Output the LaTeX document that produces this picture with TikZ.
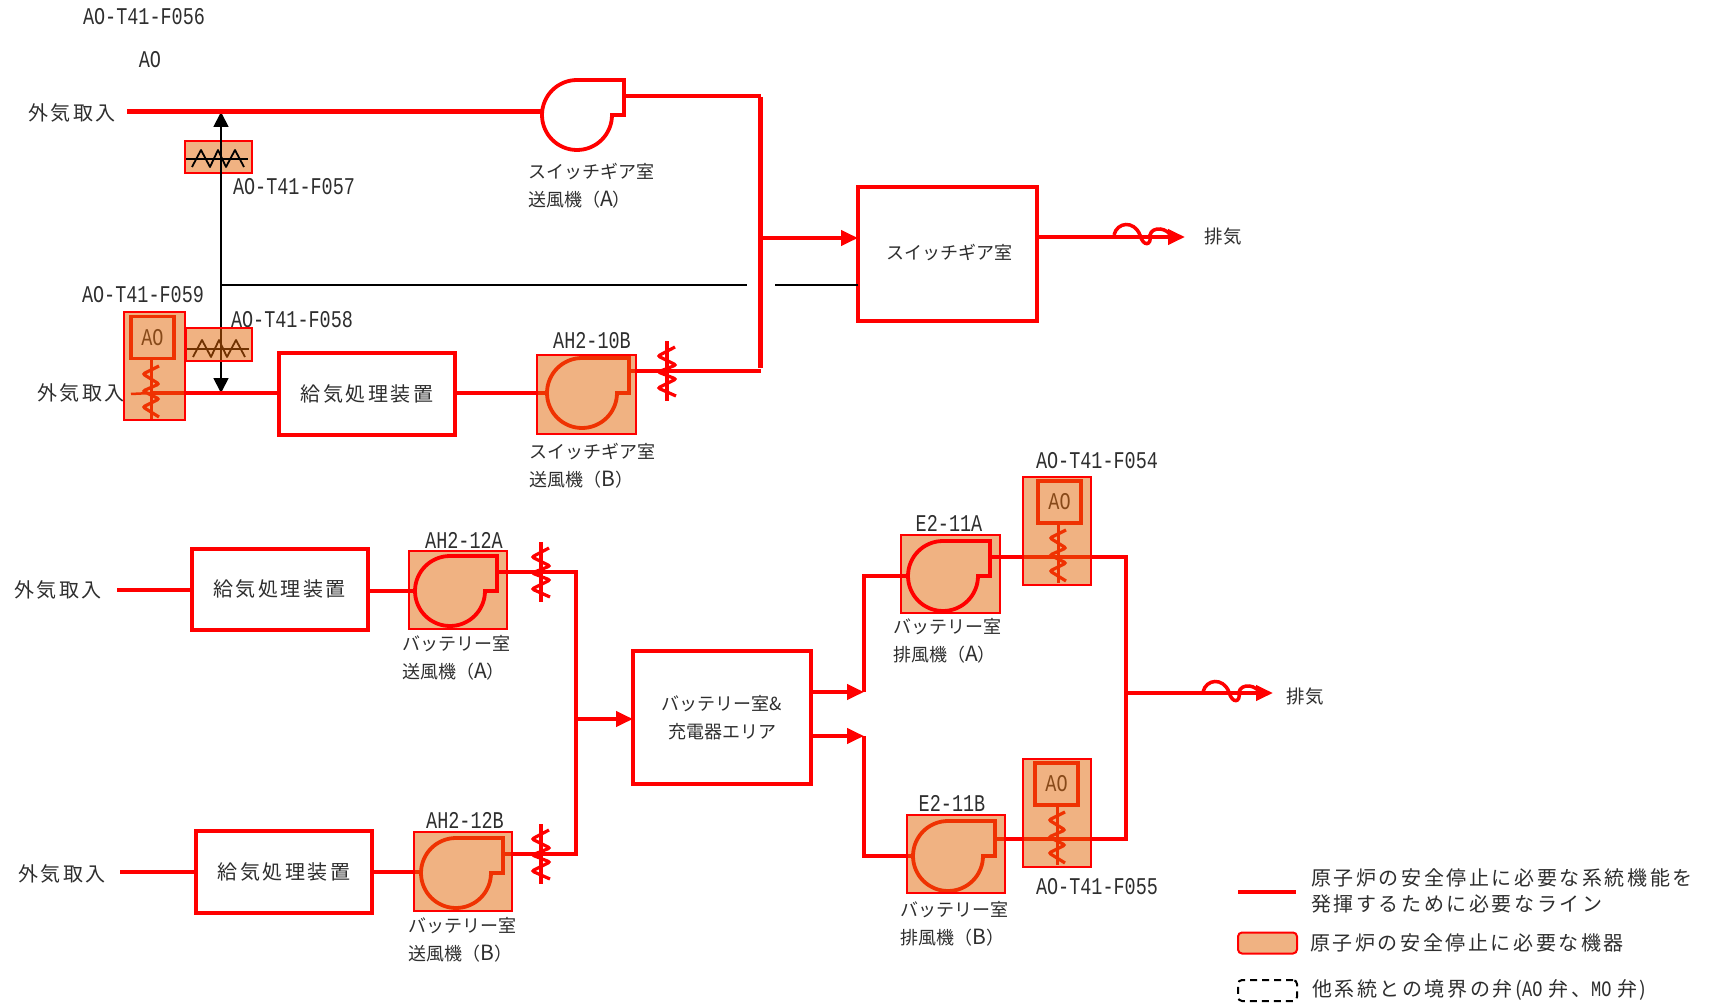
\documentclass[tikz,border=0pt]{standalone}
\usepackage{fontspec}
\usepackage{tikz}
\usetikzlibrary{arrows.meta}
\setmainfont{Liberation Serif}
\newfontfamily\jpfont{Noto Sans CJK JP}
\newfontfamily\jpwide[LetterSpace=13]{Noto Sans CJK JP}
\newfontfamily\tagfont[FakeStretch=0.77]{Liberation Mono}
\definecolor{kikiFill}{HTML}{E16505}
\definecolor{kikiLegend}{HTML}{F0B282}
\definecolor{txtGrey}{HTML}{2E2E2E}
\newcommand{\fanA}{{\jpfont（}{\fontsize{21}{21}\selectfont A}{\jpfont）}}
\newcommand{\fanB}{{\jpfont（}{\fontsize{21}{21}\selectfont B}{\jpfont）}}
\tikzset{
  fan/.pic={
    \draw[fanline] (35,0) arc[start angle=0,end angle=270,radius=35] -- (47,-35) -- (47,0) -- cycle;
    \coordinate (-in) at (-35,0);
    \coordinate (-out) at (47,-19);
  },
  spring/.pic={
    \draw[redline, line width=4pt] (0,-30) -- (0,30);
    \draw[redline, line width=3.2pt, rounded corners=2pt] (8,-24) -- (-9,-15) -- (9,-6) -- (-9,1) -- (9,8) -- (-9,17) -- (9,25);
  },
  stemspring/.pic={
    \draw[redline, line width=3pt] (0,-35) -- (0,26);
    \draw[redline, line width=3.2pt, rounded corners=2pt] (8,-27) -- (-8,-19) -- (8,-9) -- (-8,-2) -- (8,6) -- (-8,14) -- (8,24);
  },
  wave/.pic={
    \draw (-32,0) -- (30,0);
    \draw[line join=round] (-26,8) -- (-17,-9) -- (-8,8) -- (0,-9) -- (8,8) -- (17,-9) -- (26,8);
  },
  curl/.pic={
    \draw[redline, line width=3.5pt] (0,0) .. controls (3,-13) and (20,-15) .. (26,0) .. controls (29,12) and (38,11) .. (36,0) .. controls (38,-9) and (54,-8) .. (58,3);
  }
}
\begin{document}
\begin{tikzpicture}[x=1pt,y=-1pt,
  redline/.style={draw=red, line width=4pt},
  busline/.style={draw=red, line width=5.5pt},
  blackline/.style={draw=black, line width=1.8pt},
  fanline/.style={draw=red, line width=3.8pt, miter limit=2},
  kiki/.style={draw=red, line width=2pt, fill=kikiFill, fill opacity=.5, inner sep=0pt, outer sep=0pt},
  aobox/.style={draw=red, line width=3.5pt, minimum width=43pt, minimum height=42pt, inner sep=0pt, outer sep=0pt, text=txtGrey, font=\tagfont\fontsize{24}{24}\selectfont},
  roombox/.style={draw=red, line width=4pt, fill=white, align=center, inner sep=0pt, outer sep=0pt, text=txtGrey, font=\jpwide\fontsize{20}{25}\selectfont},
  jptext/.style={text=txtGrey, font=\jpwide\fontsize{20}{26}\selectfont, inner sep=0pt},
  eqtext/.style={text=txtGrey, align=left, font=\jpfont\fontsize{18}{28}\selectfont, inner sep=0pt},
  tagtext/.style={text=txtGrey, font=\tagfont\fontsize{24}{24}\selectfont, inner sep=0pt},
  redarr/.style={-{Triangle[length=17pt,width=15pt]}}
]
  \useasboundingbox (0,0) rectangle (1717,1003);
  % drawn first, these stay clean on top of their fill
  \node[kiki, minimum width=67pt, minimum height=32pt] (f057box) at (218.5,157) {};
  \node[kiki, minimum width=98pt, minimum height=78pt] (box12A) at (458,590) {};
  \node[kiki, minimum width=99pt, minimum height=78pt] (box11A) at (950.5,574) {};
  \pic[blackline] at (218,159) {wave};
  % tags
  \node[tagtext] (f056) at (144,17) {AO-T41-F056};
  \node[tagtext] (aotop) at (150,60) {AO};
  \node[tagtext] (f057) at (294,187) {AO-T41-F057};
  \node[tagtext] (f059) at (143,295) {AO-T41-F059};
  \node[tagtext] (f058) at (292,320) {AO-T41-F058};
  \node[tagtext] (ah10b) at (592,341) {AH2-10B};
  \node[tagtext] (f054) at (1097,461) {AO-T41-F054};
  \node[tagtext] (e11a) at (949,523) {E2-11A};
  \node[tagtext] (ah12a) at (464,540) {AH2-12A};
  \node[tagtext] (e11b) at (952,803) {E2-11B};
  \node[tagtext] (ah12b) at (465,820) {AH2-12B};
  \node[tagtext] (f055) at (1097,887) {AO-T41-F055};
  % intake and exhaust
  \node[jptext] (gaiki1) at (72,113) {外気取入};
  \node[jptext] (gaiki2) at (81,393) {外気取入};
  \node[jptext] (gaiki3) at (58,590) {外気取入};
  \node[jptext] (gaiki4) at (62,874) {外気取入};
  \node[jptext] (haiki1) at (1223,237) {\jpfont\fontsize{18.5}{18}\selectfont 排気};
  \node[jptext] (haiki2) at (1305,697) {\jpfont\fontsize{18.5}{18}\selectfont 排気};
  % rooms
  \node[roombox, minimum width=179pt, minimum height=134pt] (swgr) at (947.5,254) {};
  \node[text=txtGrey, font=\jpfont\fontsize{18}{18}\selectfont] (swgrtxt) at (949,253) {スイッチギア室};
  \node[roombox, minimum width=176pt, minimum height=82pt] (kyuki1) at (367,394) {給気処理装置};
  \node[roombox, minimum width=176pt, minimum height=81pt] (kyuki2) at (279.5,589) {給気処理装置};
  \node[roombox, minimum width=176pt, minimum height=82pt] (kyuki3) at (284,872) {給気処理装置};
  \node[roombox, minimum width=178pt, minimum height=133pt, font=\jpfont\fontsize{18}{28}\selectfont] (batt) at (722,717.5) {バッテリー室\&\\充電器エリア};
  % fans
  \pic (fanSA) at (577,115) {fan};
  \pic (fanSB) at (582,393) {fan};
  \pic (fan12A) at (450,591) {fan};
  \pic (fan12B) at (456,873) {fan};
  \pic (fan11A) at (943,576) {fan};
  \pic (fan11B) at (948,856) {fan};
  % junctions
  \coordinate (start1) at (127,112);
  \coordinate (start3) at (117,590);
  \coordinate (start4) at (120,872);
  \coordinate (busTop) at (760.5,94);
  \coordinate (busMid) at (760.5,238);
  \coordinate (busLow) at (760.5,371);
  \coordinate (bus12) at (576,719);
  \coordinate (up11) at (864,692);
  \coordinate (low11) at (864,736);
  \coordinate (exBus) at (1126,693);
  \coordinate (valve59) at (151,393);
  \coordinate (tee) at (221,112);
  \coordinate (teeLow) at (221,393);
  \coordinate (brk1) at (221,285);
  \coordinate (brk2) at (747,285);
  \coordinate (brk3) at (775,285);
  \coordinate (sw1) at (667,371);
  \coordinate (sw2) at (541,572);
  \coordinate (sw3) at (541,854);
  \coordinate (val54) at (1058,557);
  \coordinate (val55) at (1057,839);
  \coordinate (tip1) at (1185,237);
  \coordinate (tip2) at (1273,693);
  % black air lines
  \draw[blackline, {Triangle[length=15pt,width=15pt]}-{Triangle[length=15pt,width=15pt]}] (tee) -- (teeLow);
  \draw[blackline] (brk1) -- (brk2);
  \draw[blackline] (brk3) -- (swgr.west |- brk3);
  % red lines, switchgear side
  \draw[redline, line width=5pt] (start1) -- (start1 -| fanSA-in);
  \draw[redline] (fanSA-out) -- (fanSA-out -| busTop);
  \draw[redline] (valve59) -- (valve59 -| kyuki1.west);
  \draw[redline] (fanSB-in -| kyuki1.east) -- (fanSB-in);
  \draw[redline] (sw1 -| fanSB-out) -- (busLow);
  \draw[busline] ([yshift=-3pt]busTop) -- ([yshift=3pt]busLow);
  \draw[redline, redarr] (busMid) -- (swgr.west |- busMid);
  \draw[redline, redarr] (swgr.east |- tip1) -- (tip1);
  \pic at (1114,235) {curl};
  \pic at (sw1) {spring};
  % red lines, battery side
  \draw[redline] (start3) -- (start3 -| kyuki2.west);
  \draw[redline] (fan12A-in -| kyuki2.east) -- (fan12A-in);
  \draw[redline] (start4) -- (start4 -| kyuki3.west);
  \draw[redline] (start4 -| kyuki3.east) -- (start4 -| fan12B-in);
  \draw[redline] (fan12A-out) -| (bus12);
  \draw[redline] (fan12B-out) -| (bus12);
  \draw[redline, redarr] (bus12) -- (batt.west |- bus12);
  \draw[redline, redarr] (batt.east |- up11) -- (up11);
  \draw[redline] (up11) |- (fan11A-in);
  \draw[redline, redarr] (batt.east |- low11) -- (low11);
  \draw[redline] (low11) |- (fan11B-in);
  \draw[redline] (fan11A-out) -| (exBus);
  \draw[redline] (val55 -| fan11B-out) -| (exBus);
  \draw[redline, redarr] (exBus) -- (tip2);
  \pic at (1203,692) {curl};
  \pic at (sw2) {spring};
  \pic at (sw3) {spring};
  % air operated valves
  \node[aobox] (ao59) at (152.5,337.5) {AO};
  \node[aobox] (ao54) at (1059.5,502) {AO};
  \node[aobox] (ao55) at (1056.5,784) {AO};
  \pic at (valve59) {stemspring};
  \pic at (val54) {stemspring};
  \pic at (val55) {stemspring};
  \draw[redline, line width=2.5pt] (131,394) -- (valve59);
  \draw[redline] (val54 -| box11A.east) -- (val54);
  % overlays
  \pic[draw=black, line width=1.8pt] at (219,349) {wave};
  \node[kiki, minimum width=61pt, minimum height=108pt] (f059box) at (154.5,366) {};
  \node[kiki, minimum width=66pt, minimum height=33pt] (f058box) at (219,344.5) {};
  \node[kiki, minimum width=99pt, minimum height=79pt] (box10B) at (586.5,394.5) {};
  \node[kiki, minimum width=98pt, minimum height=79pt] (box12B) at (463,871.5) {};
  \node[kiki, minimum width=98pt, minimum height=78pt] (box11B) at (956,854) {};
  \node[kiki, minimum width=68pt, minimum height=108pt] (f054box) at (1057,531) {};
  \node[kiki, minimum width=68pt, minimum height=108pt] (f055box) at (1057,813) {};
  % equipment names
  \node[eqtext, anchor=north west] (nameSA) at (528,163) {スイッチギア室\\送風機\fanA};
  \node[eqtext, anchor=north west] (nameSB) at (529,443) {スイッチギア室\\送風機\fanB};
  \node[eqtext, anchor=north west] (name12A) at (402,635) {バッテリー室\\送風機\fanA};
  \node[eqtext, anchor=north west] (name12B) at (408,917) {バッテリー室\\送風機\fanB};
  \node[eqtext, anchor=north west] (name11A) at (893,618) {バッテリー室\\排風機\fanA};
  \node[eqtext, anchor=north west] (name11B) at (900,901) {バッテリー室\\排風機\fanB};
  % legend
  \coordinate (lgL) at (1238,892);
  \coordinate (lgR) at (1296,892);
  \draw[redline] (lgL) -- (lgR);
  \node[jptext, anchor=west, align=left] (lgtxt1) at (1311,891) {原子炉の安全停止に必要な系統機能を\\発揮するために必要なライン};
  \node[draw=red, line width=2pt, rounded corners=4pt, fill=kikiLegend, minimum width=59pt, minimum height=21pt] (lgbox) at (1267.5,943) {};
  \node[jptext, anchor=west] (lgtxt2) at (1310,943) {原子炉の安全停止に必要な機器};
  \node[draw=black, dash pattern=on 7pt off 5pt, line width=2pt, rounded corners=4pt, minimum width=59pt, minimum height=21pt] (lgdash) at (1267.5,990.5) {};
  \node[jptext, anchor=west] (lgtxt3) at (1312,990) {他系統との境界の弁({\tagfont\fontsize{22}{22}\selectfont AO\hspace{6pt}}弁、{\tagfont\fontsize{22}{22}\selectfont MO\hspace{6pt}}弁\hspace{2pt})};
\end{tikzpicture}
\end{document}
